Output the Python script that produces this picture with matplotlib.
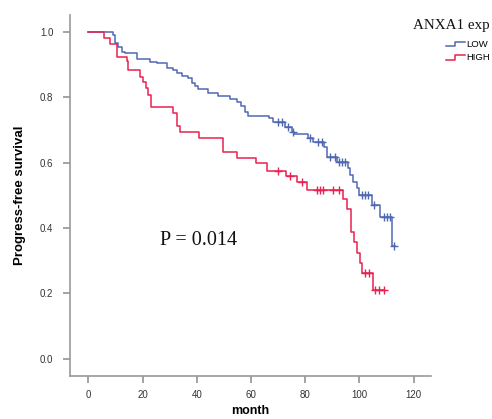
import numpy as np
import matplotlib
matplotlib.use("Agg")
import matplotlib.pyplot as plt
from matplotlib.legend_handler import HandlerBase
from matplotlib.lines import Line2D

# ---- data ----
low_t = [0, 9.0, 9.9, 11.1, 12.3, 13.5, 17.9, 22.8, 25.2, 28.9, 31.4, 32.6, 34.5,
         36.9, 38.2, 39.4, 40.6, 44.3, 48.0, 52.3, 54.8, 56.2, 57.8, 59.0, 66.8,
         68.3, 72.6, 75.0, 75.9, 81.2, 83.0, 87.0, 88.0, 91.7, 95.9, 96.6, 97.8,
         99.0, 100.0, 104.6, 107.6, 112.0]
low_s = [1.0, 0.991, 0.965, 0.955, 0.940, 0.935, 0.916, 0.909, 0.904, 0.889, 0.884,
         0.874, 0.865, 0.858, 0.843, 0.835, 0.825, 0.814, 0.805, 0.795, 0.785, 0.773,
         0.756, 0.743, 0.736, 0.725, 0.710, 0.695, 0.687, 0.675, 0.662, 0.647, 0.617,
         0.603, 0.583, 0.562, 0.542, 0.522, 0.501, 0.470, 0.435, 0.346]
low_end = 113.0
low_censor = [70.1, 71.4, 73.8, 75.4, 81.8, 84.9, 86.1, 89.2, 91.0, 92.3, 93.5, 94.7,
              100.9, 102.1, 103.3, 105.5, 108.9, 110.1, 111.3, 112.6]

high_t = [0, 5.9, 8.0, 10.5, 14.2, 14.8, 19.0, 20.3, 21.2, 21.9, 23.1, 31.4, 32.6,
          33.8, 41.0, 49.8, 55.0, 62.0, 65.8, 73.0, 76.9, 80.5, 93.9, 95.6, 96.8,
          98.0, 99.0, 100.3, 101.1, 104.9]
high_s = [1.0, 0.981, 0.962, 0.922, 0.911, 0.884, 0.863, 0.848, 0.828, 0.807, 0.770,
          0.751, 0.712, 0.693, 0.677, 0.634, 0.615, 0.598, 0.576, 0.559, 0.542, 0.515,
          0.488, 0.458, 0.389, 0.356, 0.323, 0.292, 0.261, 0.210]
high_end = 108.9
high_censor = [70.1, 74.5, 78.7, 84.3, 85.5, 86.7, 90.4, 92.3, 102.1, 103.7, 105.8,
               107.4, 108.9]

groups = ["LOW", "HIGH"]
legend_title = "ANXA1 exp"
p_text = "P = 0.014"
x_ticks = [0, 20, 40, 60, 80, 100, 120]
y_ticks = [0.0, 0.2, 0.4, 0.6, 0.8, 1.0]

BLUE = "#5068b4"
RED = "#ea2150"

fig = plt.figure(figsize=(4.92, 4.19), dpi=100)
ax = fig.add_axes([70 / 492, 43 / 419, 360.7 / 492, 361 / 419])


def step_value(times, surv, t):
    idx = np.searchsorted(np.asarray(times), t, side="right") - 1
    return np.asarray(surv)[idx]


handles = []
for name, t, s, end, cens, col in [
    ("LOW", low_t, low_s, low_end, low_censor, BLUE),
    ("HIGH", high_t, high_s, high_end, high_censor, RED),
]:
    tt = list(t) + [end]
    ss = list(s) + [s[-1]]
    (ln,) = ax.step(tt, ss, where="post", color=col, lw=1.1, label=name)
    cy = [step_value(t, s, c) for c in cens]
    ax.plot(cens, cy, linestyle="none", marker="+", ms=6, mew=1.0, color=col)
    handles.append(ln)


class StepHandler(HandlerBase):
    def create_artists(self, legend, orig_handle, xdescent, ydescent, width,
                       height, fontsize, trans):
        xs = np.array([0, 0.5 * width, 0.5 * width, width]) - xdescent
        ys = np.array([0.1 * height, 0.1 * height, 0.8 * height, 0.8 * height]) - ydescent
        line = Line2D(xs, ys, color=orig_handle.get_color(), lw=1.1)
        line.set_transform(trans)
        return [line]


leg = fig.legend(handles=handles, labels=groups,
                 handler_map={Line2D: StepHandler()},
                 loc="upper left", bbox_to_anchor=(446 / 492, 1 - 40 / 419),
                 bbox_transform=fig.transFigure, frameon=False,
                 prop={"family": "Liberation Sans", "size": 6.8},
                 handlelength=2.0, handletextpad=0.1,
                 labelspacing=0.45, borderpad=0, borderaxespad=0)
fig.text(451 / 492, 1 - 25 / 419, legend_title, family="Liberation Serif",
         fontsize=10.8, ha="center", va="center", color="#111111")

ax.set_xlim(-6.75, 126.3)
ax.set_ylim(-0.053, 1.052)
ax.set_xticks(x_ticks)
ax.set_yticks(y_ticks)
ax.set_yticklabels([f"{v:.1f}" for v in y_ticks])

for side in ["top", "right"]:
    ax.spines[side].set_visible(False)
for side in ["left", "bottom"]:
    ax.spines[side].set_color("#9a9a9a")
    ax.spines[side].set_linewidth(1.2)

ax.tick_params(axis="both", direction="out", length=5, width=1.1, color="#8a8a8a",
               labelsize=7, labelcolor="#333333")
ax.tick_params(axis="y", pad=7)
ax.tick_params(axis="x", pad=5)
for lab in ax.get_xticklabels() + ax.get_yticklabels():
    lab.set_family("Liberation Sans")

ax.set_xlabel("month", family="Liberation Sans", fontweight="bold", fontsize=9, labelpad=4)
ax.set_ylabel("Progress-free survival", family="Liberation Sans", fontweight="bold",
              fontsize=9.5, labelpad=10)

fig.text(199 / 492, 1 - 240 / 419, p_text, family="Liberation Serif", fontsize=14.5,
         ha="center", va="center", color="#111111")

fig.savefig("out.png", dpi=100)
